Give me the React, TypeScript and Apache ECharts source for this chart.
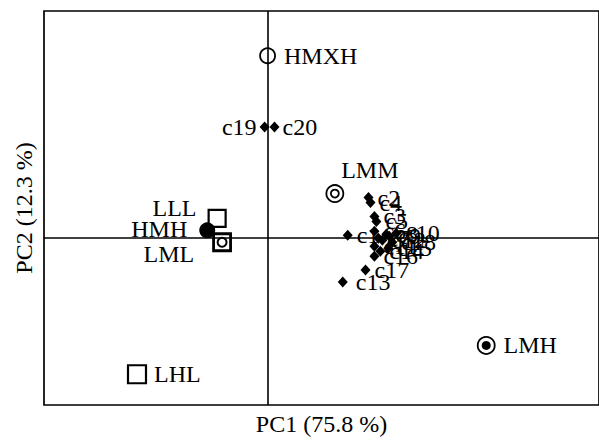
import React, { useEffect, useRef } from "react";
import * as echarts from "echarts";

// ---- data (PC scores) ----
const groupNames = ["HMXH", "LMM", "LLL", "HMH", "LML", "LHL", "LMH"];
const groupPC1 = [0.0, 0.68, -0.51, -0.61, -0.46, -1.32, 2.21];
const groupPC2 = [1.83, 0.44, 0.19, 0.07, -0.05, -1.38, -1.09];

const clusterNames = [
  "c1", "c2", "c3", "c4", "c5", "c6", "c7", "c8", "c9", "c10",
  "c11", "c12", "c13", "c14", "c15", "c16", "c17", "c18", "c19", "c20",
];
const clusterPC1 = [0.81, 1.02, 1.08, 1.04, 1.1, 1.08, 1.12, 1.2, 1.23, 1.3, 1.08, 1.16, 0.76, 1.14, 1.22, 1.08, 0.99, 1.26, -0.03, 0.07];
const clusterPC2 = [0.02, 0.4, 0.21, 0.35, 0.16, 0.06, -0.01, 0.03, 0.01, 0.04, -0.09, -0.03, -0.45, -0.14, -0.11, -0.19, -0.33, -0.05, 1.11, 1.11];

const axisTitles = ["PC1 (75.8 %)", "PC2 (12.3 %)"];

// ---- styles ----
const FONT = "'Liberation Serif', 'DejaVu Serif', 'Times New Roman', serif";
const BLACK = "#000";
const WHITE = "#fff";

type Layer = { symbol: string; size: number; fill: string; bw: number };
const groupLayers: Record<string, Layer[]> = {
  HMXH: [{ symbol: "circle", size: 15, fill: WHITE, bw: 1.8 }],
  LMM: [
    { symbol: "circle", size: 17, fill: WHITE, bw: 1.8 },
    { symbol: "circle", size: 8, fill: WHITE, bw: 1.8 },
  ],
  LLL: [{ symbol: "rect", size: 17, fill: WHITE, bw: 2.2 }],
  HMH: [{ symbol: "circle", size: 16, fill: BLACK, bw: 0 }],
  LML: [
    { symbol: "rect", size: 17, fill: WHITE, bw: 2.8 },
    { symbol: "circle", size: 9, fill: WHITE, bw: 2 },
  ],
  LHL: [{ symbol: "rect", size: 18, fill: WHITE, bw: 2.2 }],
  LMH: [
    { symbol: "circle", size: 17, fill: WHITE, bw: 1.8 },
    { symbol: "circle", size: 9, fill: BLACK, bw: 0 },
  ],
};

const groupLabel: Record<string, any> = {
  HMXH: { position: "right", distance: 8 },
  LMM: { position: "top", distance: 2, offset: [35, 0] },
  LLL: { position: "left", distance: 11, offset: [0, -10] },
  HMH: { position: "left", distance: 12, offset: [0, -1] },
  LML: { position: "left", distance: 18, offset: [0, 12] },
  LHL: { position: "right", distance: 7 },
  LMH: { position: "right", distance: 8 },
};

const clusterLabel: Record<string, any> = {
  c19: { position: "left", distance: 3 },
  c20: { position: "right", distance: 3 },
  c13: { position: "right", distance: 8 },
};

const labelText = { fontFamily: FONT, fontSize: 24, color: BLACK };

function buildOption() {
  const series: any[] = [];

  // axis cross lines through the origin
  series.push({
    type: "scatter",
    data: [],
    silent: true,
    z: 1,
    markLine: {
      silent: true,
      symbol: ["none", "none"],
      label: { show: false },
      lineStyle: { color: BLACK, width: 1.6, type: "solid" },
      data: [{ xAxis: 0 }, { yAxis: 0 }],
    },
  });

  // group markers, layer by layer
  for (let layer = 0; layer < 2; layer++) {
    const data: any[] = [];
    groupNames.forEach((name, i) => {
      const l = groupLayers[name][layer];
      if (!l) return;
      const item: any = {
        name,
        value: [groupPC1[i], groupPC2[i]],
        symbol: l.symbol,
        symbolSize: l.size,
        itemStyle: { color: l.fill, borderColor: BLACK, borderWidth: l.bw, opacity: 1 },
      };
      if (layer === 0) {
        item.label = { show: true, formatter: name, ...labelText, ...groupLabel[name] };
      } else {
        item.label = { show: false };
      }
      data.push(item);
    });
    series.push({ type: "scatter", z: 3 + layer, data });
  }

  // cluster diamonds
  series.push({
    type: "scatter",
    z: 2,
    symbol: "diamond",
    symbolSize: [10, 11],
    itemStyle: { color: BLACK, opacity: 1 },
    label: { show: true, position: "right", distance: 4, formatter: "{b}", ...labelText },
    data: clusterNames.map((name, i) => ({
      name,
      value: [clusterPC1[i], clusterPC2[i]],
      label: clusterLabel[name] ? { ...clusterLabel[name] } : undefined,
    })),
  });

  const hiddenAxis = {
    type: "value",
    axisLine: { show: false },
    axisTick: { show: false },
    axisLabel: { show: false },
    splitLine: { show: false },
    nameLocation: "middle",
    nameTextStyle: { fontFamily: FONT, fontSize: 24, color: BLACK },
  };

  return {
    animation: false,
    backgroundColor: WHITE,
    grid: {
      left: 44,
      right: -6,
      top: 11,
      bottom: 33,
      show: true,
      borderColor: BLACK,
      borderWidth: 1.7,
      backgroundColor: "transparent",
    },
    xAxis: { ...hiddenAxis, min: -2.26, max: 3.35, name: axisTitles[0], nameGap: 7 },
    yAxis: { ...hiddenAxis, min: -1.69, max: 2.28, name: axisTitles[1], nameGap: 8 },
    series,
  };
}

export default function App() {
  const ref = useRef<HTMLDivElement>(null);
  useEffect(() => {
    if (!ref.current) return;
    const chart = echarts.init(ref.current, null, { renderer: "svg" });
    chart.setOption(buildOption() as any);
    return () => chart.dispose();
  }, []);
  return (
    <div
      ref={ref}
      style={{ position: "fixed", left: 0, top: 0, width: 599, height: 441, background: "#fff" }}
    />
  );
}
